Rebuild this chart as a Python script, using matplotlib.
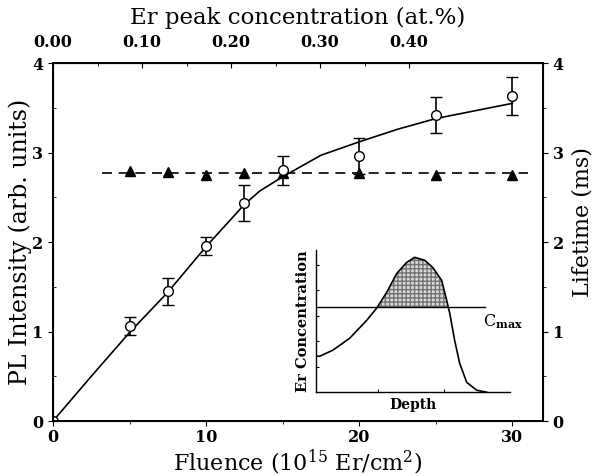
import numpy as np
import matplotlib
matplotlib.use("Agg")
import matplotlib.pyplot as plt

# PL intensity vs fluence (circles, with error bars)
fluence = [0, 5, 7.5, 10, 12.5, 15, 20, 25, 30]
pl = [0.0, 1.06, 1.45, 1.96, 2.44, 2.80, 2.96, 3.42, 3.63]
pl_err = [0.0, 0.10, 0.15, 0.10, 0.20, 0.16, 0.20, 0.20, 0.21]

# smooth guide curve through the data
curve_x = [0, 2.5, 5, 7.5, 10, 12.5, 13.5, 15, 17.5, 20, 22.5, 25, 30]
curve_y = [0, 0.50, 0.99, 1.44, 1.95, 2.42, 2.57, 2.73, 2.97, 3.12, 3.26, 3.38, 3.55]

# lifetime (triangles)
life_x = [5, 7.5, 10, 12.5, 15, 20, 25, 30]
lifetime = [2.79, 2.78, 2.75, 2.77, 2.77, 2.77, 2.75, 2.75]
life_mean = 2.77
dash_range = [3.2, 31.0]

# top axis: Er peak concentration (at.%)
conc_per_fluence = 0.0172
conc_ticks = [0.00, 0.10, 0.20, 0.30, 0.40]

# inset depth profile (arbitrary units)
depth = [0, 0.021, 0.088, 0.175, 0.263, 0.314, 0.366, 0.418, 0.469, 0.510,
         0.562, 0.603, 0.649, 0.675, 0.691, 0.716, 0.742, 0.778, 0.830, 0.881]
er_conc = [0.254, 0.254, 0.296, 0.380, 0.507, 0.592, 0.704, 0.838, 0.915, 0.951,
           0.930, 0.880, 0.789, 0.648, 0.556, 0.366, 0.204, 0.070, 0.014, 0.0]
c_max = 0.599

plt.rcParams['font.family'] = ['DejaVu Serif']
plt.rcParams['mathtext.fontset'] = 'dejavuserif'

fig = plt.figure(figsize=(5.99, 4.76), dpi=100)
ax = fig.add_axes([0.0885, 0.1155, 0.818, 0.752])

ax.plot(curve_x, curve_y, color='black', lw=1.2)
ax.errorbar(fluence, pl, yerr=pl_err, fmt='o', mfc='white', mec='black',
            ms=7, mew=1.0, ecolor='black', elinewidth=1.2, capsize=4, capthick=1.2)
ax.plot(dash_range, [life_mean, life_mean], color='black', lw=1.2, ls=(0, (6, 4)))
ax.plot(life_x, lifetime, '^', color='black', ms=6.5, ls='none')

ax.set_xlim(0, 32)
ax.set_ylim(0, 4)
ax.set_xticks([0, 10, 20, 30])
ax.set_xticks([5, 15, 25], minor=True)
ax.set_yticks([0, 1, 2, 3, 4])
ax.set_yticks([0.5, 1.5, 2.5, 3.5], minor=True)
for s in ax.spines.values():
    s.set_linewidth(1.4)
ax.tick_params(axis='x', which='both', direction='out', labelsize=11.5, pad=2)
ax.tick_params(axis='y', which='major', direction='out', labelsize=11.5)
ax.tick_params(axis='y', which='minor', direction='in')
for lab in ax.get_xticklabels() + ax.get_yticklabels():
    lab.set_fontweight('bold')
ax.set_xlabel(r'Fluence (10$^{15}$ Er/cm$^{2}$)', fontsize=16, labelpad=1)
ax.set_ylabel('PL Intensity (arb. units)', fontsize=17, labelpad=0)

# right axis: lifetime
ax2 = ax.twinx()
ax2.set_ylim(0, 4)
ax2.set_yticks([0, 1, 2, 3, 4])
ax2.set_yticks([0.5, 1.5, 2.5, 3.5], minor=True)
ax2.tick_params(axis='y', which='both', direction='out', labelsize=11.5)
for lab in ax2.get_yticklabels():
    lab.set_fontweight('bold')
ax2.set_ylabel('Lifetime (ms)', fontsize=16)
ax2.yaxis.set_label_coords(1.058, 0.556)

# top axis: concentration
ax3 = ax.secondary_xaxis('top', functions=(lambda f: f * conc_per_fluence,
                                           lambda c: c / conc_per_fluence))
ax3.set_xticks(conc_ticks)
ax3.set_xticks([0.05, 0.15, 0.25, 0.35], minor=True)
ax3.set_xticklabels([f'{c:.2f}' for c in conc_ticks], fontweight='bold')
ax3.tick_params(axis='x', which='both', direction='in', labelsize=11.5, pad=9)
ax3.set_xlabel('Er peak concentration (at.%)', fontsize=16.5, labelpad=7)

# inset: depth profile
ins = fig.add_axes([0.527, 0.176, 0.324, 0.298])
ins.patch.set_alpha(0)
ins.plot([0, 0.871], [c_max, c_max], color='black', lw=1.0)
d = np.array(depth)
c = np.array(er_conc)
ins.fill_between(d, c, c_max, where=c > c_max, interpolate=True,
                 facecolor='0.85', edgecolor='0.45', hatch='++++', lw=0)
ins.plot(depth, er_conc, color='black', lw=1.2)
ins.set_xlim(0, 1)
ins.set_ylim(0, 1.0)
for side in ['top', 'right']:
    ins.spines[side].set_visible(False)
ins.spines['left'].set_linewidth(1.0)
ins.spines['bottom'].set_linewidth(1.0)
ins.set_xticks([0.32, 0.66])
ins.set_yticks([0.18, 0.36, 0.54, 0.72, 0.9])
ins.tick_params(direction='in', length=2, labelbottom=False, labelleft=False)
ins.set_xlabel('Depth', fontsize=10, fontweight='bold', labelpad=4)
ins.set_ylabel('Er Concentration', fontsize=10.5, fontweight='bold', labelpad=4)
ins.text(0.86, 0.5, r'C$_{\mathbf{max}}$', fontsize=11.5,
         transform=ins.transAxes, va='center', ha='left')

fig.savefig('out.png', dpi=100)
